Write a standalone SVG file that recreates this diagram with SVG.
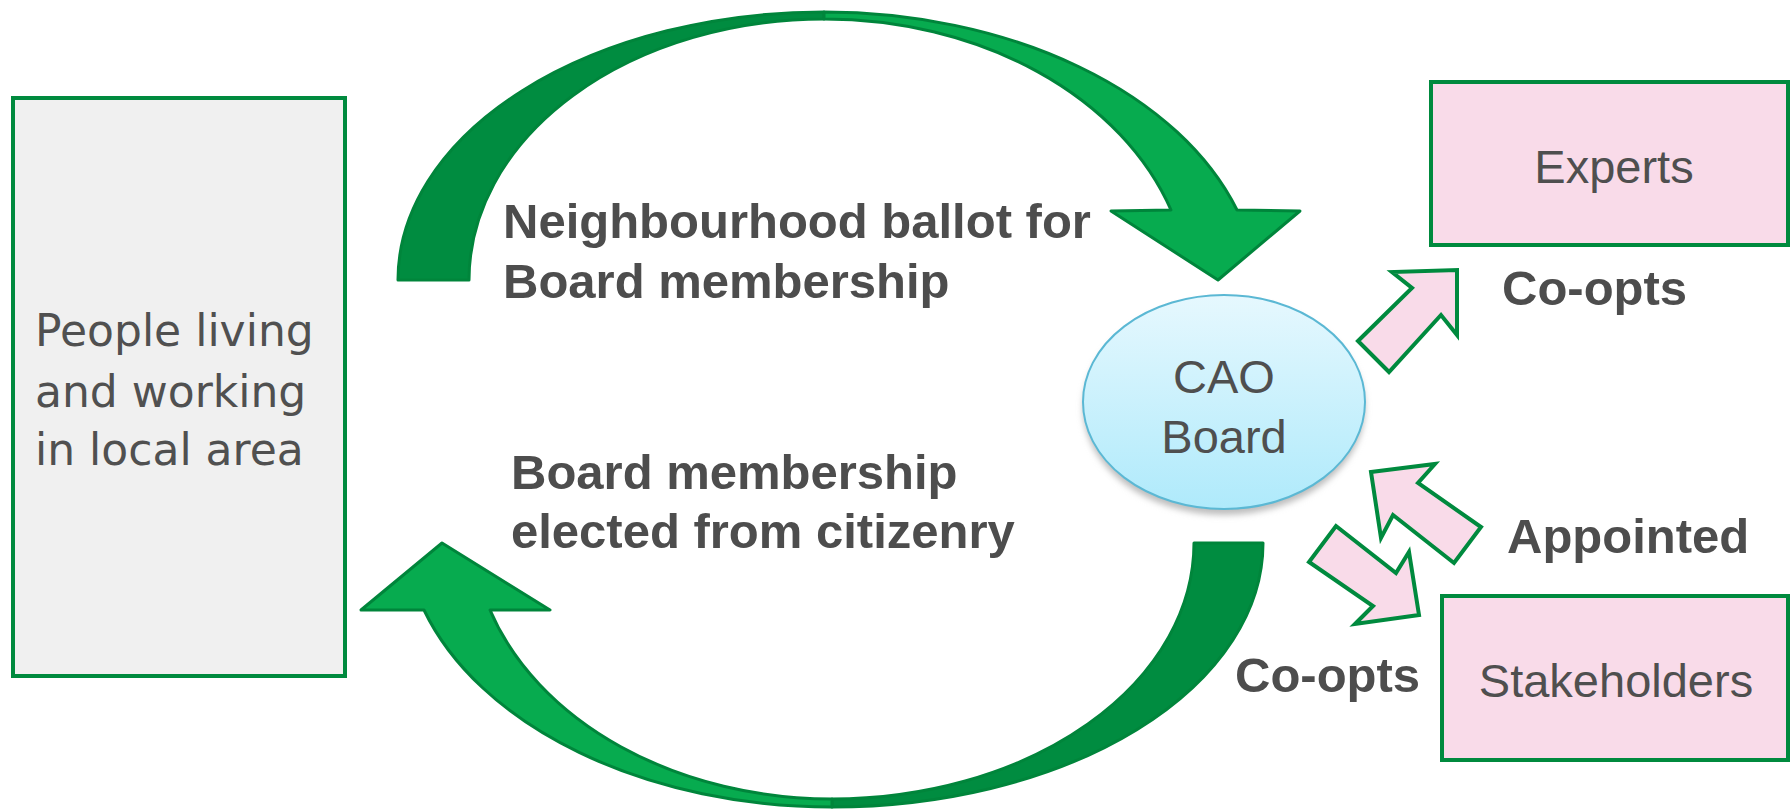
<svg xmlns="http://www.w3.org/2000/svg" width="1791" height="809" viewBox="0 0 1791 809">
  <defs>
    <linearGradient id="blueGrad" x1="0" y1="0" x2="0" y2="1">
      <stop offset="0" stop-color="#e6f8fe"/>
      <stop offset="1" stop-color="#afeafb"/>
    </linearGradient>
    <filter id="shadow" x="-20%" y="-20%" width="140%" height="150%">
      <feGaussianBlur stdDeviation="3"/>
    </filter>
  </defs>
  <style>
    .box { stroke: #008a3e; stroke-width: 4; }
    .dark { fill: #008c40; stroke: #00853b; stroke-width: 3; stroke-linejoin: round; }
    .light { fill: #07ab4f; stroke: #00853b; stroke-width: 3; stroke-linejoin: round; }
    .pink { fill: #f9dbe9; stroke: #008a3e; stroke-width: 4; stroke-linejoin: miter; }
    .lbl { font-family: "Liberation Sans", Arial, sans-serif; font-weight: bold; font-size: 49px; fill: #4d4d4d; }
    .node { font-family: "Liberation Sans", Arial, sans-serif; font-size: 47px; fill: #4f4f4f; text-anchor: middle; }
    .people { font-family: "DejaVu Sans", Verdana, sans-serif; font-size: 44px; fill: #505050; }
  </style>
  <rect width="1791" height="809" fill="#ffffff"/>

  <g id="connectors">
    <!-- top curved arrow: ballot -->
    <path class="dark" d="M 398,280 A 426 268 0 0 1 824,12 L 824,19 A 355 261 0 0 0 469,280 Z"/>
    <path class="light" d="M 824,12 A 435 288 0 0 1 1237,210 L 1300,211 L 1218,280 L 1111,211 L 1171,210 A 366 281 0 0 0 824,19 Z"/>
    <!-- bottom curved arrow: elected -->
    <path class="dark" d="M 1194,543 L 1263,543 A 431 264 0 0 1 832,807 L 832,799 A 362 256 0 0 0 1194,543 Z"/>
    <path class="light" d="M 832,807 A 428 282 0 0 1 424,610 L 361,610 L 442,543 L 550,610 L 490,610 A 360 274 0 0 0 832,799 Z"/>
    <!-- pink block arrows -->
    <polygon class="pink" points="1358,341 1412,288 1392,272 1457,270 1457,335 1441,315 1389,372"/>
    <polygon class="pink" points="1371,472 1435,464 1418,483 1481,527 1454,563 1393,515 1381,538"/>
    <polygon class="pink" points="1336,526 1396,573 1409,552 1419,615 1355,624 1373,606 1309,562"/>
  </g>

  <g id="people">
    <rect class="box" x="13" y="98" width="332" height="578" fill="#f0f0f0"/>
    <text class="people" x="35" y="346">People living</text>
    <text class="people" x="35" y="407">and working</text>
    <text class="people" x="35" y="465">in local area</text>
  </g>

  <g id="cao-board">
    <ellipse cx="1224" cy="408" rx="141" ry="107" fill="#bdbdbd" filter="url(#shadow)"/>
    <ellipse cx="1224" cy="402" rx="141" ry="107" fill="url(#blueGrad)" stroke="#5bb8d4" stroke-width="2"/>
    <text class="node" x="1224" y="393" font-size="46">CAO</text>
    <text class="node" x="1224" y="453" font-size="46">Board</text>
  </g>

  <g id="experts">
    <rect class="box" x="1431" y="82" width="357" height="163" fill="#f9dbe9"/>
    <text class="node" x="1614" y="183">Experts</text>
  </g>

  <g id="stakeholders">
    <rect class="box" x="1442" y="596" width="346" height="164" fill="#f9dbe9"/>
    <text class="node" x="1616" y="697" font-size="48">Stakeholders</text>
  </g>

  <g id="labels">
    <text class="lbl" x="503" y="238">Neighbourhood ballot for</text>
    <text class="lbl" x="503" y="298">Board membership</text>
    <text class="lbl" x="511" y="489">Board membership</text>
    <text class="lbl" x="511" y="548">elected from citizenry</text>
    <text class="lbl" x="1502" y="305">Co-opts</text>
    <text class="lbl" x="1507" y="553">Appointed</text>
    <text class="lbl" x="1235" y="692">Co-opts</text>
  </g>
</svg>
